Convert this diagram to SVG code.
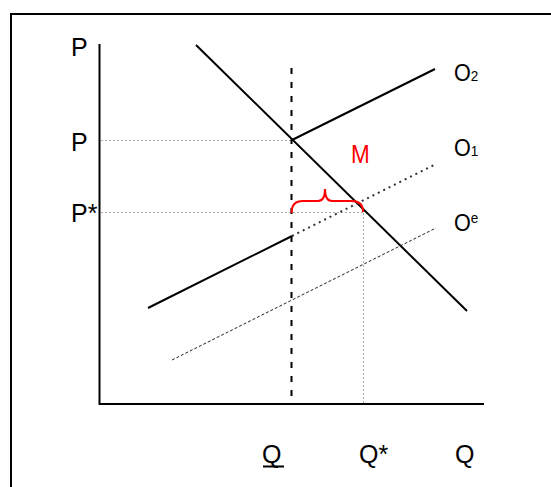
<svg xmlns="http://www.w3.org/2000/svg" width="551" height="487" viewBox="0 0 551 487">
<style>
.lbl{font-family:"Liberation Sans",Arial,sans-serif;fill:#000}
.solid{stroke:#000;stroke-width:2;fill:none}
.guide{stroke:#aaa;stroke-width:1;stroke-dasharray:2 2;fill:none}
</style>
<rect width="551" height="487" fill="#fff"/>
<path d="M11,487 V14 H551" fill="none" stroke="#000" stroke-width="2"/>
<g id="axes">
<line x1="99.5" y1="44" x2="99.5" y2="405" class="solid"/>
<line x1="99" y1="404" x2="484" y2="404" class="solid"/>
</g>
<g id="guides">
<line x1="101" y1="140.5" x2="291" y2="140.5" class="guide"/>
<line x1="101" y1="212.5" x2="363" y2="212.5" class="guide"/>
<line x1="363.5" y1="213" x2="363.5" y2="403" class="guide"/>
</g>
<g id="connectors">
<line id="demand" x1="196" y1="45" x2="467" y2="311" class="solid"/>
<line id="o2" x1="292" y1="140" x2="435" y2="69" class="solid"/>
<line id="o1-solid" x1="148" y1="308" x2="292" y2="236" class="solid"/>
<line id="o1-dotted" x1="292" y1="236" x2="436" y2="164" stroke="#333" stroke-width="2" stroke-dasharray="2 4" fill="none"/>
<line id="oe" x1="172" y1="360" x2="436" y2="228" stroke="#222" stroke-width="1" stroke-dasharray="3 2" fill="none"/>
<line id="qline" x1="291.5" y1="68" x2="291.5" y2="398" stroke="#000" stroke-width="2" stroke-dasharray="6 8" fill="none"/>
<path id="brace" d="M291.5,213 Q291.5,201 303,201 L318,201 Q325,201 325,189 Q325,201 332,201 L352,201 Q363,201 363,212" stroke="#f00" stroke-width="2" fill="none"/>
</g>
<g id="labels">
<text class="lbl" x="71" y="56" font-size="25">P</text>
<text class="lbl" x="71" y="151" font-size="25">P</text>
<text class="lbl" x="71" y="222" font-size="25">P*</text>
<text class="lbl" transform="translate(454,81) scale(0.9,1)" font-size="24">O<tspan font-size="15">2</tspan></text>
<text class="lbl" transform="translate(454,156) scale(0.9,1)" font-size="24">O<tspan font-size="15">1</tspan></text>
<text class="lbl" transform="translate(454,231) scale(0.9,1)" font-size="24">O<tspan font-size="15" dy="-8">e</tspan></text>
<text class="lbl" transform="translate(351,163) scale(0.9,1)" font-size="25" style="fill:#f00">M</text>
<text class="lbl" x="262" y="463" font-size="25">Q</text>
<line x1="263" y1="466.5" x2="284" y2="466.5" stroke="#000" stroke-width="2"/>
<text class="lbl" x="359" y="463" font-size="25">Q*</text>
<text class="lbl" x="455" y="463" font-size="25">Q</text>
</g>
</svg>
